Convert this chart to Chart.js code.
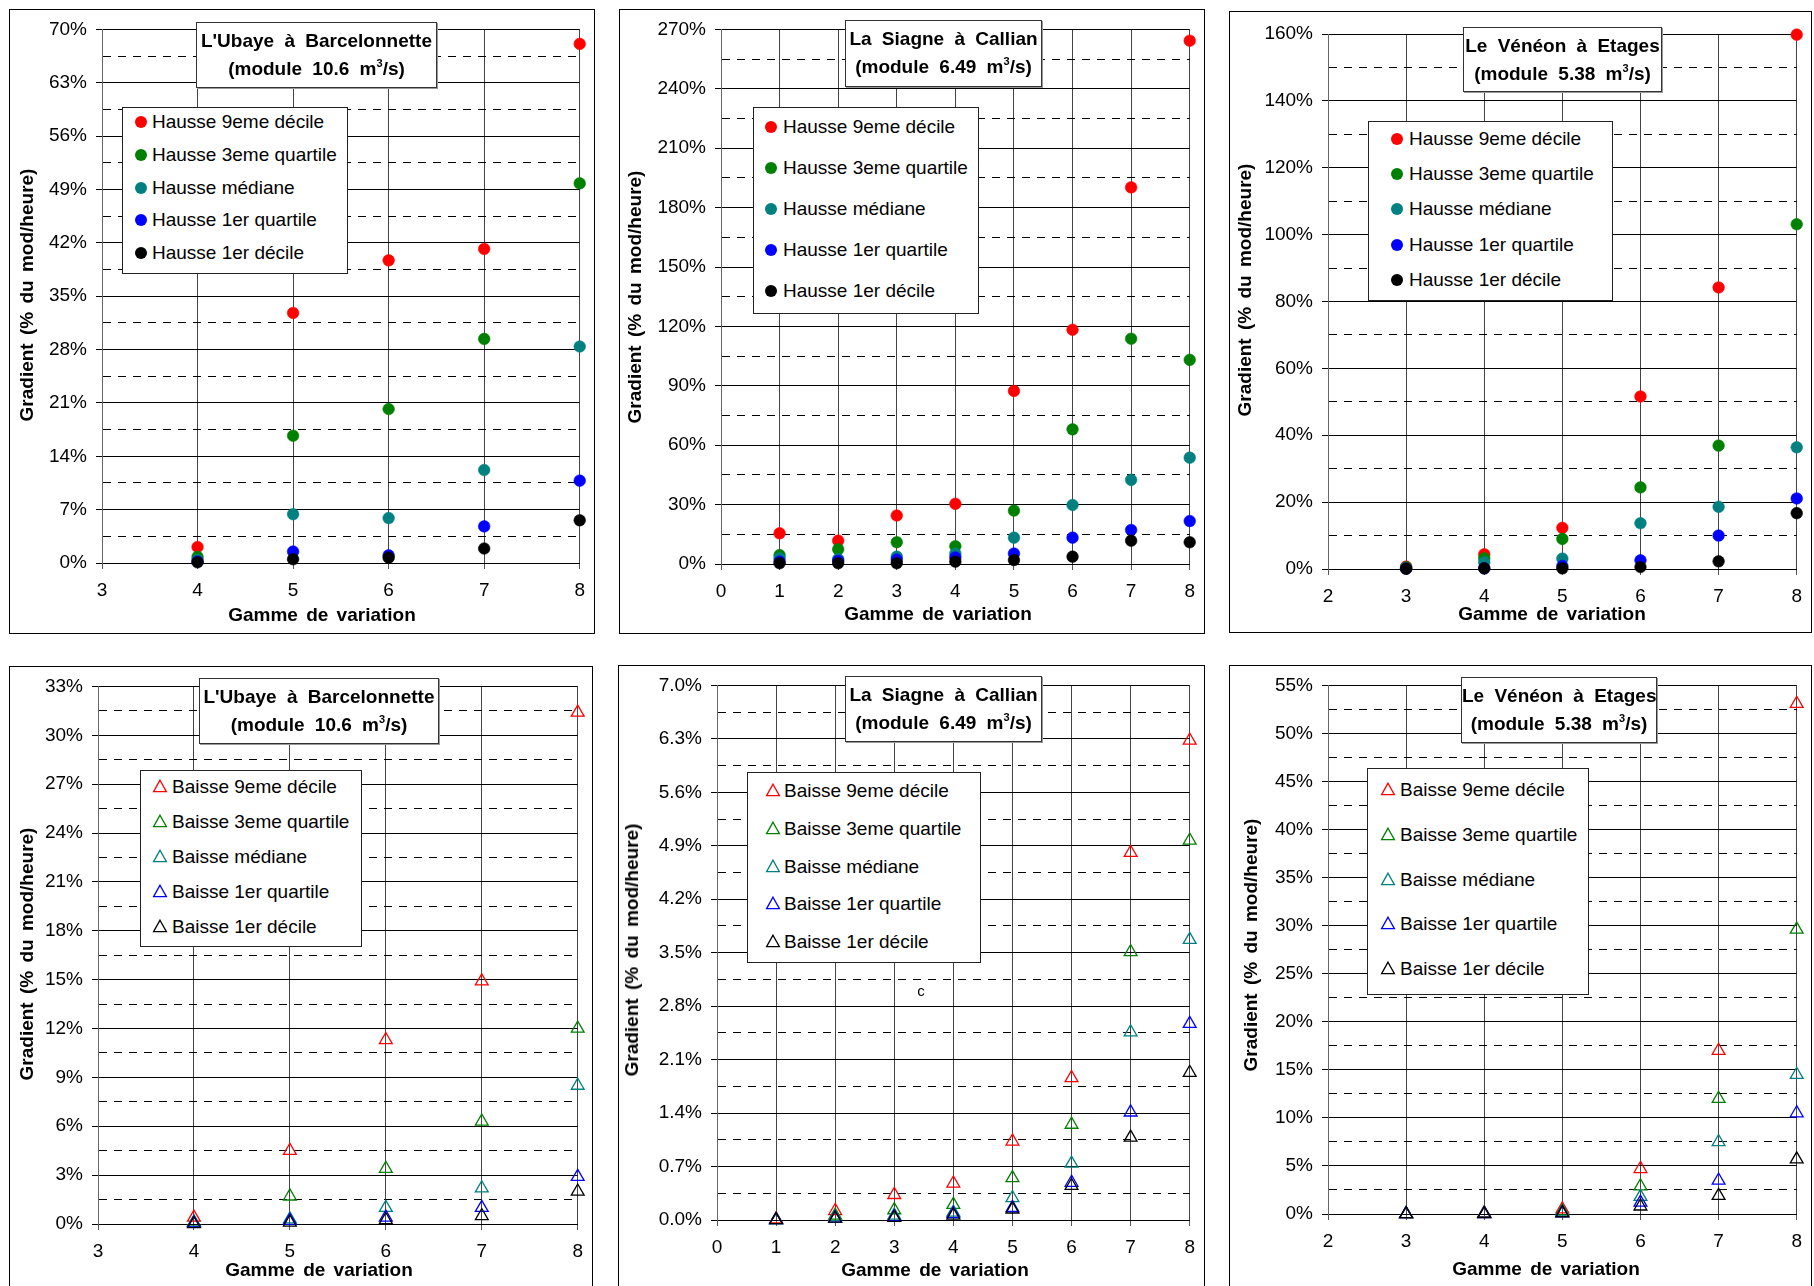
<!DOCTYPE html>
<html lang="fr">
<head>
<meta charset="utf-8">
<title>Gradients de hausse et de baisse</title>
<script src="https://cdn.jsdelivr.net/npm/chart.js@4.4.1/dist/chart.umd.min.js"></script>
<style>
  html, body { margin: 0; padding: 0; background: #fff; }
  body { width: 1814px; height: 1286px; overflow: hidden; position: relative;
         font-family: "Liberation Sans", Arial, sans-serif; color: #000; }
  .panel { position: absolute; }
  .panel canvas { position: absolute; left: 0; top: 0; }
  .cadre { position: absolute; box-sizing: border-box; border: 1px solid #000; pointer-events: none; }
  .titre { position: absolute; box-sizing: border-box; background: #fff; border: 1px solid #333;
           box-shadow: 1px 1px 0 #999; font-weight: bold; font-size: 19px; word-spacing: 5px;
           text-align: center; line-height: 28px; padding-top: 4px; white-space: nowrap; }
  .titre sup { font-size: 11px; vertical-align: 8px; line-height: 0; }
  .legende { position: absolute; box-sizing: border-box; background: #fff; border: 1px solid #222; }
  .item { position: absolute; font-size: 19px; line-height: 22px; white-space: nowrap; transform: translateY(-50%); }
  .marque { position: absolute; }
  .axe { position: absolute; font-weight: bold; font-size: 19px; word-spacing: 3px; white-space: nowrap; }
  .note { position: absolute; font-size: 15px; }
</style>
</head>
<body>
<script>
// --- gammes de variation (abscisses)
const gammeUbaye  = [4, 5, 6, 7, 8];
const gammeSiagne = [1, 2, 3, 4, 5, 6, 7, 8];
const gammeVeneon = [3, 4, 5, 6, 7, 8];

const xTicksUbaye  = [3, 4, 5, 6, 7, 8];
const xTicksSiagne = [0, 1, 2, 3, 4, 5, 6, 7, 8];
const xTicksVeneon = [2, 3, 4, 5, 6, 7, 8];

// --- graduations des ordonnées (% du module par heure)
const yTicksUbayeHausse  = [0, 7, 14, 21, 28, 35, 42, 49, 56, 63, 70];
const yTicksSiagneHausse = [0, 30, 60, 90, 120, 150, 180, 210, 240, 270];
const yTicksVeneonHausse = [0, 20, 40, 60, 80, 100, 120, 140, 160];
const yTicksUbayeBaisse  = [0, 3, 6, 9, 12, 15, 18, 21, 24, 27, 30, 33];
const yTicksSiagneBaisse = [0, 0.7, 1.4, 2.1, 2.8, 3.5, 4.2, 4.9, 5.6, 6.3, 7.0];
const yTicksVeneonBaisse = [0, 5, 10, 15, 20, 25, 30, 35, 40, 45, 50, 55];

// --- hausses
const ubayeHausse9d  = [2.1, 32.8, 39.7, 41.2, 68.1];
const ubayeHausse3q  = [0.8, 16.7, 20.2, 29.4, 49.8];
const ubayeHausseMed = [0.4, 6.4, 5.9, 12.2, 28.4];
const ubayeHausse1q  = [0.2, 1.5, 1.0, 4.8, 10.8];
const ubayeHausse1d  = [0.1, 0.5, 0.7, 1.9, 5.6];

const siagneHausse9d  = [15.5, 11.8, 24.5, 30.4, 87.4, 118.3, 190.2, 264.3];
const siagneHausse3q  = [4.5, 7.4, 11.0, 9.0, 27.0, 68.0, 113.8, 103.1];
const siagneHausseMed = [2.9, 2.5, 3.7, 5.3, 13.3, 29.8, 42.5, 53.7];
const siagneHausse1q  = [1.2, 1.6, 2.2, 3.3, 5.3, 13.3, 17.2, 21.7];
const siagneHausse1d  = [0.4, 0.4, 0.4, 1.2, 2.0, 3.7, 11.8, 11.0];

const veneonHausse9d  = [0.7, 4.4, 12.3, 51.6, 84.2, 159.8];
const veneonHausse3q  = [0.5, 3.2, 9.0, 24.4, 36.9, 103.1];
const veneonHausseMed = [0.2, 2.0, 3.1, 13.7, 18.6, 36.4];
const veneonHausse1q  = [0.1, 0.2, 0.9, 2.6, 10.0, 21.1];
const veneonHausse1d  = [0.1, 0.2, 0.2, 0.6, 2.3, 16.7];

// --- baisses
const ubayeBaisse9d  = [0.4, 4.5, 11.3, 14.9, 31.4];
const ubayeBaisse3q  = [0.1, 1.7, 3.4, 6.3, 12.0];
const ubayeBaisseMed = [0.1, 0.3, 1.0, 2.2, 8.5];
const ubayeBaisse1q  = [0.05, 0.2, 0.4, 1.0, 2.9];
const ubayeBaisse1d  = [0.0, 0.1, 0.25, 0.5, 2.0];

const siagneBaisse9d  = [0.01, 0.12, 0.33, 0.48, 1.03, 1.86, 4.81, 6.28];
const siagneBaisse3q  = [0.0, 0.06, 0.13, 0.20, 0.55, 1.25, 3.51, 4.97];
const siagneBaisseMed = [0.0, 0.04, 0.06, 0.10, 0.29, 0.74, 2.46, 3.67];
const siagneBaisse1q  = [0.0, 0.02, 0.04, 0.08, 0.16, 0.49, 1.41, 2.57];
const siagneBaisse1d  = [0.0, 0.02, 0.03, 0.06, 0.14, 0.45, 1.08, 1.93];

const veneonBaisse9d  = [0.0, 0.1, 0.5, 4.7, 17.0, 53.1];
const veneonBaisse3q  = [0.0, 0.05, 0.3, 2.9, 12.0, 29.6];
const veneonBaisseMed = [0.0, 0.03, 0.2, 1.8, 7.5, 14.5];
const veneonBaisse1q  = [0.0, 0.02, 0.1, 1.2, 3.5, 10.5];
const veneonBaisse1d  = [0.0, 0.0, 0.1, 0.8, 1.9, 5.7];

const libellesHausse = ['Hausse 9eme décile', 'Hausse 3eme quartile', 'Hausse médiane', 'Hausse 1er quartile', 'Hausse 1er décile'];
const libellesBaisse = ['Baisse 9eme décile', 'Baisse 3eme quartile', 'Baisse médiane', 'Baisse 1er quartile', 'Baisse 1er décile'];
const couleurs = ['#ff0000', '#008000', '#008080', '#0000ff', '#000000'];

const titreUbaye  = ["L'Ubaye à Barcelonnette", '(module 10.6 m<sup>3</sup>/s)'];
const titreSiagne = ['La Siagne à Callian', '(module 6.49 m<sup>3</sup>/s)'];
const titreVeneon = ['Le Vénéon à Etages', '(module 5.38 m<sup>3</sup>/s)'];

const FONT = '"Liberation Sans", Arial, sans-serif';
Chart.defaults.font.family = FONT;

// mise en page : [gauche, haut, droite, bas] en px
const panneaux = [
  { box: [9, 9, 595, 634], plot: [102, 25, 589, 563], gamme: gammeUbaye, xTicks: xTicksUbaye, yTicks: yTicksUbayeHausse, dec: 0,
    series: [ubayeHausse9d, ubayeHausse3q, ubayeHausseMed, ubayeHausse1q, ubayeHausse1d], marque: 'circle', libelles: libellesHausse,
    titre: titreUbaye, titreBox: [196, 22, 437, 88], leg: { box: [122, 107, 348, 274], mx: 141, tx: 152, y0: 122, dy: 32.8 },
    axeX: [322, 615], axeY: [27, 295] },
  { box: [619, 9, 1205, 634], plot: [721, 25, 1201, 564], gamme: gammeSiagne, xTicks: xTicksSiagne, yTicks: yTicksSiagneHausse, dec: 0,
    series: [siagneHausse9d, siagneHausse3q, siagneHausseMed, siagneHausse1q, siagneHausse1d], marque: 'circle', libelles: libellesHausse,
    titre: titreSiagne, titreBox: [845, 20, 1042, 87], leg: { box: [753, 107, 979, 314], mx: 771, tx: 783, y0: 127, dy: 41 },
    axeX: [938, 614], axeY: [635, 297] },
  { box: [1229, 11, 1812, 633], plot: [1328, 34, 1806, 569], gamme: gammeVeneon, xTicks: xTicksVeneon, yTicks: yTicksVeneonHausse, dec: 0,
    series: [veneonHausse9d, veneonHausse3q, veneonHausseMed, veneonHausse1q, veneonHausse1d], marque: 'circle', libelles: libellesHausse,
    titre: titreVeneon, titreBox: [1463, 27, 1662, 92], leg: { box: [1368, 121, 1613, 301], mx: 1397, tx: 1409, y0: 139, dy: 35.2 },
    axeX: [1552, 614], axeY: [1245, 290] },
  { box: [9, 666, 593, 1300], plot: [98, 683, 587, 1224], gamme: gammeUbaye, xTicks: xTicksUbaye, yTicks: yTicksUbayeBaisse, dec: 0,
    series: [ubayeBaisse9d, ubayeBaisse3q, ubayeBaisseMed, ubayeBaisse1q, ubayeBaisse1d], marque: 'triangle', libelles: libellesBaisse,
    titre: titreUbaye, titreBox: [199, 678, 439, 744], leg: { box: [140, 770, 362, 947], mx: 160, tx: 172, y0: 787, dy: 35 },
    axeX: [319, 1270], axeY: [27, 954] },
  { box: [618, 665, 1205, 1300], plot: [717, 683, 1200, 1220], gamme: gammeSiagne, xTicks: xTicksSiagne, yTicks: yTicksSiagneBaisse, dec: 1,
    series: [siagneBaisse9d, siagneBaisse3q, siagneBaisseMed, siagneBaisse1q, siagneBaisse1d], marque: 'triangle', libelles: libellesBaisse,
    titre: titreSiagne, titreBox: [845, 676, 1042, 742], leg: { box: [747, 772, 981, 963], mx: 773, tx: 784, y0: 791, dy: 37.8 },
    axeX: [935, 1270], axeY: [632, 950], note: ['c', 921, 990] },
  { box: [1229, 665, 1812, 1300], plot: [1328, 681, 1808, 1214], gamme: gammeVeneon, xTicks: xTicksVeneon, yTicks: yTicksVeneonBaisse, dec: 0,
    series: [veneonBaisse9d, veneonBaisse3q, veneonBaisseMed, veneonBaisse1q, veneonBaisse1d], marque: 'triangle', libelles: libellesBaisse,
    titre: titreVeneon, titreBox: [1461, 677, 1657, 743], leg: { box: [1367, 768, 1589, 995], mx: 1388, tx: 1400, y0: 790, dy: 44.8 },
    axeX: [1546, 1269], axeY: [1251, 945] }
];

function place(el, l, t, w, h) {
  el.style.left = l + 'px'; el.style.top = t + 'px';
  if (w !== undefined) el.style.width = w + 'px';
  if (h !== undefined) el.style.height = h + 'px';
  document.body.appendChild(el);
  return el;
}

function marqueLegende(style, color) {
  const ns = 'http://www.w3.org/2000/svg';
  const svg = document.createElementNS(ns, 'svg');
  svg.setAttribute('width', 18); svg.setAttribute('height', 18);
  const f = style === 'circle' ? document.createElementNS(ns, 'circle') : document.createElementNS(ns, 'polygon');
  if (style === 'circle') {
    f.setAttribute('cx', 9); f.setAttribute('cy', 9); f.setAttribute('r', 6); f.setAttribute('fill', color);
  } else {
    f.setAttribute('points', '9,2.2 15.4,13.6 2.6,13.6');
    f.setAttribute('fill', 'none'); f.setAttribute('stroke', color); f.setAttribute('stroke-width', 1.3);
  }
  svg.appendChild(f);
  return svg;
}

function dessine(p) {
  const [bl, bt, br, bb] = p.box;
  const [pl, pt, pr, pb] = p.plot;
  const w = br - bl, h = bb - bt;

  const wrap = document.createElement('div');
  wrap.className = 'panel';
  const canvas = document.createElement('canvas');
  canvas.width = w; canvas.height = h;
  wrap.appendChild(canvas);
  place(wrap, bl, bt, w, h);

  // graduations principales + intermédiaires (pointillées)
  const pas = p.yTicks[1] - p.yTicks[0];
  const yValeurs = [];
  p.yTicks.forEach((v, i) => {
    yValeurs.push(v);
    if (i < p.yTicks.length - 1) yValeurs.push(+(v + pas / 2).toFixed(4));
  });
  const mineur = ctx => ctx.type === 'tick' && ctx.index % 2 === 1;

  new Chart(canvas, {
    type: 'scatter',
    data: {
      datasets: p.series.map((vals, k) => ({
        label: p.libelles[k],
        data: vals.map((y, i) => ({ x: p.gamme[i], y })),
        pointStyle: p.marque,
        pointRadius: p.marque === 'circle' ? 5.8 : 7.4,
        pointBackgroundColor: p.marque === 'circle' ? couleurs[k] : 'rgba(0,0,0,0)',
        pointBorderColor: couleurs[k],
        pointBorderWidth: p.marque === 'circle' ? 0.6 : 1.3,
        order: 5 - k,
        clip: false
      }))
    },
    options: {
      responsive: false,
      animation: false,
      events: [],
      layout: { padding: { left: 0, top: pt - bt, right: br - pr, bottom: 0 } },
      plugins: { legend: { display: false }, tooltip: { enabled: false } },
      scales: {
        x: {
          type: 'linear',
          min: p.xTicks[0], max: p.xTicks[p.xTicks.length - 1],
          afterBuildTicks: s => { s.ticks = p.xTicks.map(v => ({ value: v })); },
          afterFit: s => { s.height = bb - pb; },
          grid: { color: '#444', lineWidth: 1, tickLength: 6, tickColor: '#555' },
          border: { color: '#000', width: 1 },
          ticks: { color: '#000', font: { size: 19 }, padding: 10, maxRotation: 0, autoSkip: false, callback: v => String(v) }
        },
        y: {
          min: 0, max: p.yTicks[p.yTicks.length - 1],
          afterBuildTicks: s => { s.ticks = yValeurs.map(v => ({ value: v })); },
          afterFit: s => { s.width = pl - bl; },
          grid: { color: '#000', lineWidth: 1, tickLength: 6, tickColor: ctx => mineur(ctx) ? 'rgba(0,0,0,0)' : '#000' },
          border: { color: '#666', width: 1, dash: ctx => mineur(ctx) ? [8, 7] : [] },
          ticks: { color: '#000', font: { size: 19 }, padding: 9, autoSkip: false,
                   callback: (v, i) => i % 2 ? '' : Number(v).toFixed(p.dec) + '%' }
        }
      }
    }
  });

  // titre de la station
  const [tl, tt, tr, tb] = p.titreBox;
  const titre = document.createElement('div');
  titre.className = 'titre';
  titre.innerHTML = p.titre[0] + '<br>' + p.titre[1];
  place(titre, tl, tt, tr - tl, tb - tt);

  // légende
  const g = p.leg;
  const leg = document.createElement('div');
  leg.className = 'legende';
  place(leg, g.box[0], g.box[1], g.box[2] - g.box[0], g.box[3] - g.box[1]);
  p.libelles.forEach((txt, k) => {
    const y = g.y0 + k * g.dy;
    const m = document.createElement('div');
    m.className = 'marque';
    m.appendChild(marqueLegende(p.marque, couleurs[k]));
    place(m, g.mx - 9, Math.round(y - 9));
    const it = document.createElement('div');
    it.className = 'item';
    it.textContent = txt;
    place(it, g.tx, y);
  });

  // titres des axes
  const ax = document.createElement('div');
  ax.className = 'axe';
  ax.textContent = 'Gamme de variation';
  ax.style.transform = 'translate(-50%, -50%)';
  place(ax, p.axeX[0], p.axeX[1]);

  const ay = document.createElement('div');
  ay.className = 'axe';
  ay.textContent = 'Gradient (% du mod/heure)';
  ay.style.transform = 'translate(-50%, -50%) rotate(-90deg)';
  place(ay, p.axeY[0], p.axeY[1]);

  if (p.note) {
    const n = document.createElement('div');
    n.className = 'note';
    n.textContent = p.note[0];
    n.style.transform = 'translate(-50%, -50%)';
    place(n, p.note[1], p.note[2]);
  }

  const cadre = document.createElement('div');
  cadre.className = 'cadre';
  place(cadre, bl, bt, w, h);
}

panneaux.forEach(dessine);
</script>
</body>
</html>
